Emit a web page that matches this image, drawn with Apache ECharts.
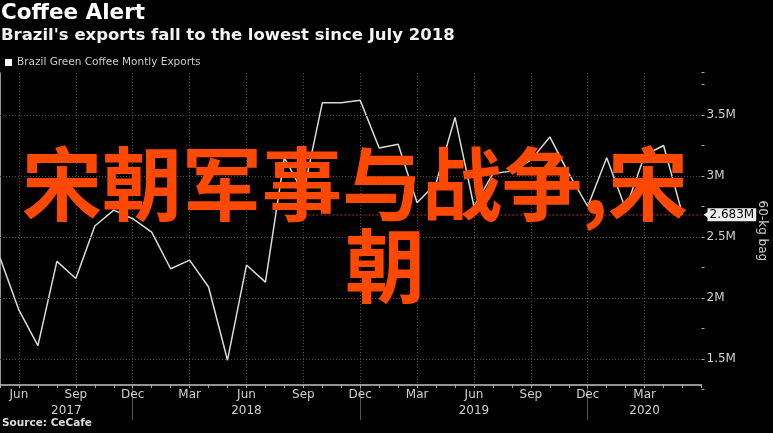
<!DOCTYPE html>
<html>
<head>
<meta charset="utf-8">
<script src="https://cdn.jsdelivr.net/npm/echarts@6/dist/echarts.min.js"></script>
<style>html,body{margin:0;padding:0;background:#000;}#c{width:773px;height:433px;}</style>
</head>
<body>
<div id="c"></div>
<script>
const titleText = 'Coffee Alert';
const subtitleText = "Brazil's exports fall to the lowest since July 2018";
const seriesName = 'Brazil Green Coffee Montly Exports';
const sourceText = 'Source: CeCafe';
const axisName = '60-kg bag';
const overlayLine1 = '宋朝军事与战争,宋';
const overlayLine2 = '朝';

const months = ['May 2017','Jun 2017','Jul 2017','Aug 2017','Sep 2017','Oct 2017','Nov 2017','Dec 2017',
  'Jan 2018','Feb 2018','Mar 2018','Apr 2018','May 2018','Jun 2018','Jul 2018','Aug 2018','Sep 2018','Oct 2018','Nov 2018','Dec 2018',
  'Jan 2019','Feb 2019','Mar 2019','Apr 2019','May 2019','Jun 2019','Jul 2019','Aug 2019','Sep 2019','Oct 2019','Nov 2019','Dec 2019',
  'Jan 2020','Feb 2020','Mar 2020','Apr 2020','May 2020','Jun 2020'];

// monthly exports, millions of 60-kg bags
const exportsM = [2.33, 1.90, 1.61, 2.30, 2.16, 2.59, 2.72, 2.65, 2.54, 2.24, 2.31, 2.09,
  1.49, 2.27, 2.13, 3.15, 2.86, 3.60, 3.60, 3.62, 3.23, 3.26, 2.78, 2.94,
  3.48, 2.75, 3.02, 3.04, 3.13, 3.32, 3.02, 2.75, 3.15, 2.73, 3.17, 3.25, 2.683];

const yGridValues = [1.5, 2, 2.5, 3, 3.5];
const yearLabels = ['2017', '2018', '2019', '2020'];
const sinceMonth = 'Aug 2018';

const lastValue = exportsM[exportsM.length - 1];
const lastIdx = months.length - 1;
const yearSeps = months.map((m, i) => m.startsWith('Dec') ? i : -1).filter(i => i >= 0);
const bounds = [0].concat(yearSeps, [lastIdx]);
const yearPos = yearLabels.map((y, i) => (bounds[i] + bounds[i + 1]) / 2);
const showMonth = (i) => i % 3 === 1 && i < lastIdx;

const FONT = 'DejaVu Sans';
const AX = '#c4c4c4';

const chart = echarts.init(document.getElementById('c'), null, {renderer: 'canvas'});
chart.setOption({
  backgroundColor: '#000',
  animation: false,
  legend: {
    left: 5, top: 57, padding: 0, icon: 'rect', itemWidth: 7, itemHeight: 7,
    textStyle: {color: '#cccccc', fontSize: 10.5, fontFamily: FONT},
    data: [{name: seriesName, itemStyle: {color: '#ffffff'}}]
  },
  grid: [
    {left: 0, right: 71.5, top: 72.3, bottom: 43.5, outerBoundsMode: 'none'},
    {left: 0, right: 71.5, top: 73, bottom: 48, outerBoundsMode: 'none'}
  ],
  xAxis: [
    {gridIndex: 0, type: 'category', data: months, boundaryGap: false, show: false},
    {gridIndex: 1, type: 'category', data: months, boundaryGap: false, position: 'bottom',
      axisLine: {show: true, lineStyle: {color: AX, width: 1.5}},
      axisTick: {show: true, interval: 0, length: 3, lineStyle: {color: '#aaa'}},
      axisLabel: {interval: showMonth, formatter: (v) => v.split(' ')[0],
        color: '#cfcfcf', fontSize: 12, fontFamily: FONT, margin: 4},
      splitLine: {show: true, interval: showMonth,
        lineStyle: {color: '#4a4a4a', type: [1, 2], width: 1}}
    },
    {gridIndex: 1, type: 'value', min: 0, max: lastIdx, position: 'bottom', offset: 3,
      axisLine: {show: false},
      axisTick: {show: true, customValues: yearSeps, length: 32, lineStyle: {color: '#555', width: 1}},
      axisLabel: {show: true, customValues: yearPos, margin: 17,
        formatter: (v) => { const k = yearPos.findIndex(p => Math.abs(p - v) < 1e-6); return k >= 0 ? yearLabels[k] : ''; },
        color: '#cfcfcf', fontSize: 12, fontFamily: FONT},
      splitLine: {show: false}
    }
  ],
  yAxis: [
    {gridIndex: 0, type: 'value', position: 'right', min: 1.25, max: 3.85, interval: 0.25,
      axisLine: {show: false},
      axisTick: {show: true, length: 3, lineStyle: {color: '#aaa'}},
      axisLabel: {margin: 5, color: '#cfcfcf', fontSize: 12, fontFamily: FONT,
        formatter: (v) => (Math.abs(v * 2 - Math.round(v * 2)) < 1e-9 && v >= 1.5 && v <= 3.5) ? (+v.toFixed(2)) + 'M' : ''},
      splitLine: {show: false},
      name: axisName, nameLocation: 'middle', nameRotate: -90, nameGap: 55,
      nameTextStyle: {color: '#cfcfcf', fontSize: 12, fontFamily: FONT}
    },
    {gridIndex: 1, type: 'value', position: 'right', min: 0, max: 1,
      axisLine: {show: true, lineStyle: {color: AX, width: 1.5}},
      axisTick: {show: false}, axisLabel: {show: false}, splitLine: {show: false}
    }
  ],
  series: [
    {
      type: 'line', xAxisIndex: 0, yAxisIndex: 0, data: [], z: 1, silent: true,
      markLine: {
        silent: true, symbol: ['none', 'none'], animation: false,
        label: {show: false},
        lineStyle: {color: '#4a4a4a', type: [1, 2], width: 1},
        data: yGridValues.map(v => ({yAxis: v}))
      }
    },
    {
      name: seriesName, type: 'line', xAxisIndex: 0, yAxisIndex: 0, z: 3,
      data: exportsM, symbol: 'none', smooth: false,
      lineStyle: {color: '#d9d9d9', width: 1.5},
      itemStyle: {color: '#d9d9d9'},
      markLine: {
        silent: true, symbol: ['none', 'none'], animation: false,
        lineStyle: {color: '#7a1f26', type: [2, 2], width: 1.5},
        label: {show: true, position: 'end', distance: 6, formatter: lastValue.toFixed(3) + 'M',
          color: '#000', backgroundColor: '#eeeeee', fontSize: 12, fontFamily: FONT, padding: [1, 2, 0, 2]},
        data: [[{coord: [sinceMonth, lastValue]}, {coord: [months[lastIdx], lastValue]}]]
      },
      markPoint: {
        silent: true, symbol: 'triangle', symbolSize: [8, 6], symbolRotate: 90, symbolOffset: [5, 0],
        itemStyle: {color: '#eeeeee'}, label: {show: false},
        data: [{coord: [months[lastIdx], lastValue]}]
      }
    }
  ],
  graphic: [
    {type: 'text', left: 1, top: 2, z: 10, style: {text: titleText, fill: '#ffffff', font: 'bold 21.5px "DejaVu Sans"'}},
    {type: 'text', left: 1, top: 27, z: 10, style: {text: subtitleText, fill: '#f2f2f2', font: 'bold 16.5px "DejaVu Sans"'}},
    {type: 'text', left: 2, top: 418, z: 10, style: {text: sourceText, fill: '#dddddd', font: 'bold 10.5px "DejaVu Sans"'}},
    {type: 'text', x: 22, y: 184, z: 100, style: {text: overlayLine1, fill: '#ff4800', font: 'bold 80px "Noto Sans CJK SC"', verticalAlign: 'middle'}},
    {type: 'text', x: 345, y: 266, z: 100, style: {text: overlayLine2, fill: '#ff4800', font: 'bold 80px "Noto Sans CJK SC"', verticalAlign: 'middle'}}
  ]
});
</script>
</body>
</html>
